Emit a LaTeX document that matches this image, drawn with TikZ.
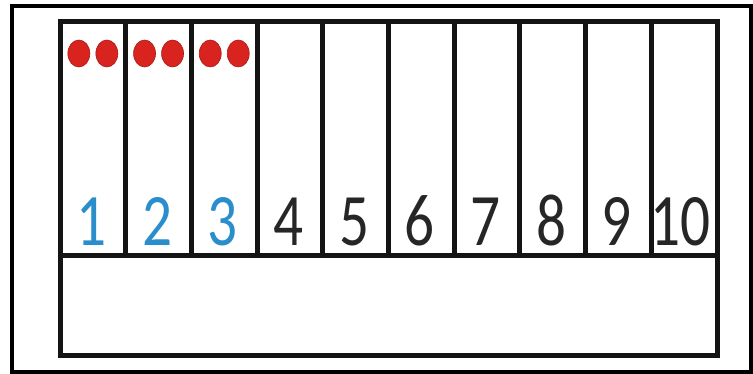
\documentclass[tikz,border=0pt]{standalone}
\usepackage{fontspec}
\setmainfont{Carlito}
\definecolor{dotred}{HTML}{D8231E}
\definecolor{dotedge}{HTML}{A81A16}
\definecolor{numblue}{HTML}{2A8DCC}
\definecolor{numgray}{HTML}{262626}
\begin{document}
\begin{tikzpicture}[x=1pt,y=-1pt,
  frame/.style={draw=black,line width=4pt},
  grid/.style={draw=black!92,line width=5pt},
  counter/.style={fill=dotred,draw=dotedge,line width=0.6pt},
  digit/.style={anchor=base,inner sep=0pt,font=\fontsize{74}{74}\selectfont,xscale=0.8},
]
\useasboundingbox (0,0) rectangle (753,374);
\fill[white] (0,0) rectangle (753,374);
\draw[frame] (12,6) rectangle (751,372);
% inner box
\draw[grid] (60,22) rectangle (717,355);
\draw[grid] (60,256) -- (717,256);
\foreach \i in {1,...,9}{
  \draw[grid] ({60+65.7*\i},22) -- ({60+65.7*\i},256);
}
% dots
\foreach \i in {0,1,2}{
  \fill[counter] ({60+65.7*\i+32.85-14},53.5) ellipse (11 and 13.5);
  \fill[counter] ({60+65.7*\i+32.85+14},53.5) ellipse (11 and 13.5);
}
% numbers
\foreach \i/\c in {1/numblue,2/numblue,3/numblue,4/numgray,5/numgray,6/numgray,7/numgray,8/numgray,9/numgray}{
  \node[digit,text=\c] (n\i) at ({60+65.7*(\i-0.5)-1.5},246) {\i};
}
\node[digit,text=numgray] (n10) at ({60+65.7*9.5-3.5},246) {10};
\end{tikzpicture}
\end{document}
